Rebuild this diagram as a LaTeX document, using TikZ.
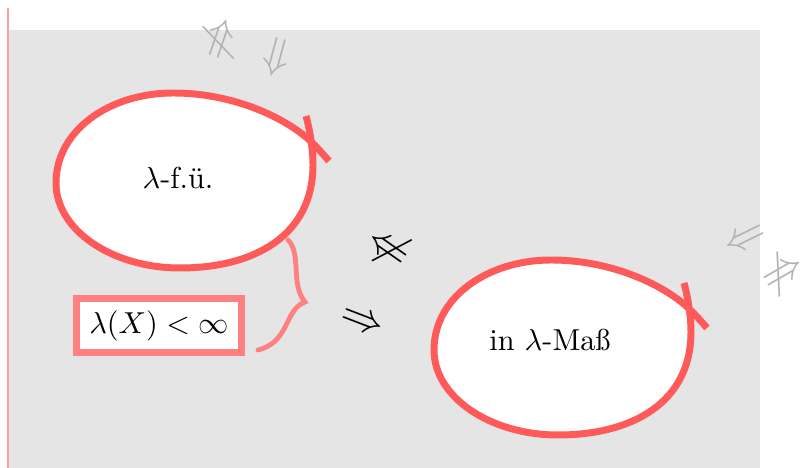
\documentclass[tikz,border=0pt]{standalone}
\usepackage{amsmath}
\definecolor{bgc}{RGB}{229,229,229}
\definecolor{loopred}{RGB}{255,90,90}
\definecolor{boxred}{RGB}{255,128,128}
\definecolor{leftline}{RGB}{255,160,160}
\definecolor{arrgray}{RGB}{178,178,178}
\tikzset{
  loopline/.style={draw=loopred, line width=2.3pt, line cap=butt},
  boxstyle/.style={draw=boxred, fill=white, line width=2.4pt, minimum width=54.6pt, minimum height=17.8pt, inner sep=0pt},
  bracestyle/.style={draw=boxred, line width=1.6pt, line cap=round},
  blackarr/.style={font=\Large, text=black, inner sep=0pt},
  grayarr/.style={font=\Large, text=arrgray, inner sep=0pt},
  lbl/.style={inner sep=0pt, font=\normalsize},
  loopy/.pic={
    \fill[white] (128,-15) .. controls (128,55) and (70,88) .. (-5,88)
      .. controls (-73,88) and (-129,50) .. (-129,3)
      .. controls (-129,-50) and (-75,-87) .. (-12,-87)
      .. controls (45,-87) and (95,-65) .. (122,-42) -- cycle;
    \draw[loopline] (121,-64) .. controls (125,-50) and (128,-30) .. (128,-15)
      .. controls (128,55) and (70,88) .. (-5,88)
      .. controls (-73,88) and (-129,50) .. (-129,3)
      .. controls (-129,-50) and (-75,-87) .. (-12,-87)
      .. controls (45,-87) and (95,-65) .. (122,-42)
      .. controls (130,-35) and (137,-27) .. (144,-19);
  }
}
\begin{document}
\begin{tikzpicture}[x=0.33pt, y=-0.33pt]
\useasboundingbox (0,0) rectangle (808,468);
\fill[bgc] (8,30) rectangle (760,468);
\draw[leftline, line width=0.5pt] (8,8) -- (8,468);

\pic at (185,180) {loopy};
\pic at (563,347) {loopy};

\node[lbl] (ffu) at (178,178) {$\lambda$-f.ü.};
\node[lbl] (mass) at (550,340) {in $\lambda$-Maß};
\node[boxstyle] (fin) at (159,325.5) {$\lambda(X)<\infty$};

\coordinate (bt) at (288,240);
\coordinate (btip) at (305,302);
\coordinate (bb) at (258,350);
\draw[bracestyle] (bt) .. controls (302,254) and (290,284) .. (btip)
                  .. controls (284,310) and (290,342) .. (bb);

\node[blackarr, rotate=145] (na) at (388,248) {$\not\Rightarrow$};
\node[blackarr, rotate=-21] (ra) at (362,323) {$\Rightarrow$};

\node[grayarr, rotate=71] (g1) at (220,38) {$\not\Rightarrow$};
\node[grayarr, rotate=-105] (g2) at (274,57) {$\Rightarrow$};
\node[grayarr, rotate=206] (g3) at (743,235) {$\Rightarrow$};
\node[grayarr, rotate=30] (g4) at (783,272) {$\not\Rightarrow$};
\end{tikzpicture}
\end{document}
